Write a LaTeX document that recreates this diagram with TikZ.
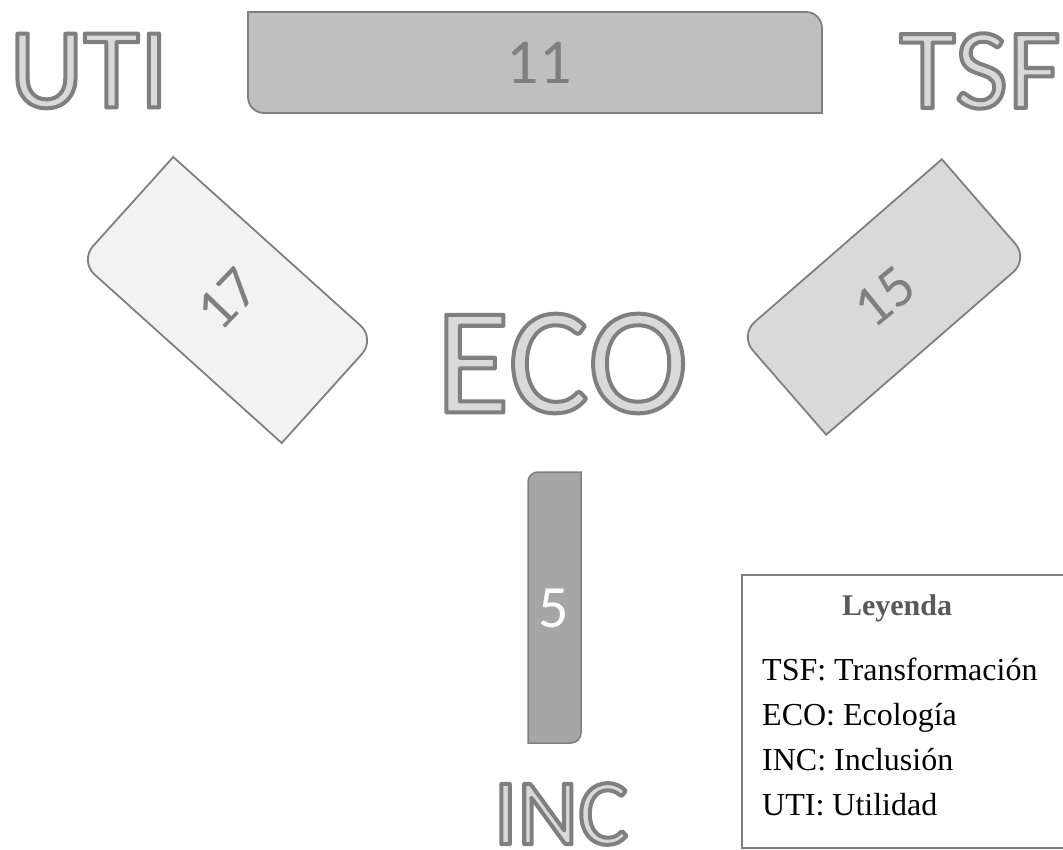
\documentclass[tikz,border=0pt]{standalone}
\usepackage{fontspec}
\setmainfont{Liberation Serif}
\newfontfamily\carlito{Carlito}
\definecolor{lineG}{HTML}{7F7F7F}
\definecolor{outFill}{HTML}{D9D9D9}
\definecolor{f11}{HTML}{BFBFBF}
\definecolor{f17}{HTML}{F2F2F2}
\definecolor{f15}{HTML}{D9D9D9}
\definecolor{f5}{HTML}{A6A6A6}
\definecolor{leyG}{HTML}{595959}
\newcommand\outl[1]{{\color{outFill}\special{pdf:literal direct 2 Tr 4 w 1 j 0.498 0.498 0.498 RG}#1\special{pdf:literal direct 0 Tr 1 w}}}
\tikzset{
  boxline/.style={draw=lineG, line width=1.8pt},
  bigtxt/.style={inner sep=0pt, font=\carlito},
  numtxt/.style={inner sep=0pt, font=\carlito, text=lineG},
  legtxt/.style={inner sep=0pt, anchor=base west, font=\fontsize{32}{32}\selectfont},
}
\begin{document}
\begin{tikzpicture}[x=1pt,y=1pt]
\useasboundingbox (0,0) rectangle (1063,-850);
% top rectangle (11)
\begin{scope}[shift={(535,-62.5)}]
\path[boxline, fill=f11] (-287,50.5) -- (271,50.5) arc[start angle=90,end angle=0,radius=16] -- (287,-50.5) -- (-271,-50.5) arc[start angle=270,end angle=180,radius=16] -- cycle;
\end{scope}
\node[numtxt, font=\carlito\fontsize{64}{64}\selectfont] (n11) at (539,-62.5) {11};
% box 17
\begin{scope}[shift={(227.5,-300)}, rotate=48]
\path[boxline, fill=f17] (-70,116) arc[start angle=180,end angle=90,radius=20] -- (70,136) -- (70,-116) arc[start angle=0,end angle=-90,radius=20] -- (-70,-136) -- cycle;
\end{scope}
\node[numtxt, font=\carlito\fontsize{59}{59}\selectfont, rotate=46] (n17) at (227.5,-299) {17};
% box 15
\begin{scope}[shift={(884,-297)}, rotate=41]
\path[boxline, fill=f15] (-134,46) arc[start angle=180,end angle=90,radius=20] -- (134,66) -- (134,-46) arc[start angle=0,end angle=-90,radius=20] -- (-134,-66) -- cycle;
\end{scope}
\node[numtxt, font=\carlito\fontsize{59}{59}\selectfont, rotate=39] (n15) at (885,-297) {15};
% box 5
\begin{scope}[shift={(554.5,-607.5)}]
\path[boxline, line width=1.5pt, fill=f5] (-26.5,125.5) arc[start angle=180,end angle=90,radius=10] -- (26.5,135.5) -- (26.5,-125.5) arc[start angle=0,end angle=-90,radius=10] -- (-26.5,-135.5) -- cycle;
\end{scope}
\node[numtxt, text=white, font=\carlito\fontsize{60}{60}\selectfont] (n5) at (554,-608) {5};
% big outlined labels
\node[bigtxt] (uti) at (89,-71) {\fontsize{115}{115}\selectfont\outl{UTI}};
\node[bigtxt] (tsf) at (980,-71) {\fontsize{115}{115}\selectfont\outl{TSF}};
\node[bigtxt] (eco) at (562,-363.5) {\fontsize{152}{152}\selectfont\outl{ECO}};
\node[bigtxt] (inc) at (561,-814) {\fontsize{94}{94}\selectfont\outl{INC}};
% legend
\draw[draw=lineG, line width=1.2pt] (742,-575) rectangle (1080,-848);
\node[inner sep=0pt, anchor=base, text=leyG, font=\bfseries\fontsize{30}{30}\selectfont] (ley) at (897,-615) {Leyenda};
\node[legtxt] (l1) at (762,-680) {TSF: Transformación};
\node[legtxt] (l2) at (762,-725) {ECO: Ecología};
\node[legtxt] (l3) at (762,-770) {INC: Inclusión};
\node[legtxt] (l4) at (762,-815) {UTI: Utilidad};
\end{tikzpicture}
\end{document}
